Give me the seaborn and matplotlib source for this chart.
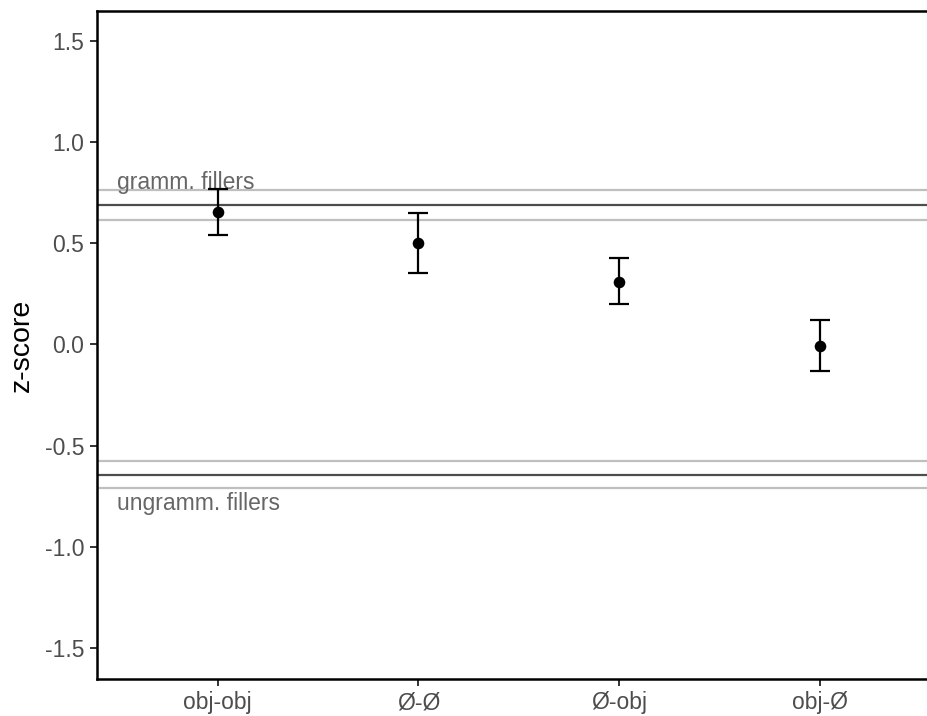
import matplotlib
matplotlib.use("Agg")
import matplotlib.pyplot as plt
import seaborn as sns
import pandas as pd

conditions = ["obj-obj", "Ø-Ø", "Ø-obj", "obj-Ø"]
means = [0.655, 0.502, 0.310, -0.005]
lower = [0.539, 0.351, 0.198, -0.133]
upper = [0.766, 0.652, 0.425, 0.120]

gramm_mean, gramm_lo, gramm_hi = 0.690, 0.617, 0.761
ungramm_mean, ungramm_lo, ungramm_hi = -0.643, -0.707, -0.578

yticks = [-1.5, -1.0, -0.5, 0.0, 0.5, 1.0, 1.5]

df = pd.DataFrame({"condition": conditions, "mean": means, "lo": lower, "hi": upper})

sns.set_style("white")
plt.rcParams["font.family"] = ["Liberation Sans", "DejaVu Sans"]

fig = plt.figure(figsize=(9.28, 7.16), dpi=100)
ax = fig.add_axes([97 / 928, (716 - 679) / 716, (928 - 97) / 928, (679 - 11) / 716])

# filler reference bands
for y, c in [(gramm_lo, "#bfbfbf"), (gramm_hi, "#bfbfbf"), (gramm_mean, "#4d4d4d"),
             (ungramm_lo, "#bfbfbf"), (ungramm_hi, "#bfbfbf"), (ungramm_mean, "#4d4d4d")]:
    ax.axhline(y, color=c, lw=1.6, zorder=1)

ax.text(-0.5, 0.80, "gramm. fillers", ha="left", va="center", fontsize=16.5, color="#666666")
ax.text(-0.5, -0.785, "ungramm. fillers", ha="left", va="center", fontsize=16.5, color="#666666")

xpos = list(range(len(conditions)))
ax.errorbar(xpos, df["mean"],
            yerr=[df["mean"] - df["lo"], df["hi"] - df["mean"]],
            fmt="none", ecolor="black", elinewidth=1.6, capsize=7, capthick=1.6, zorder=3)
sns.scatterplot(data=df, x="condition", y="mean", color="black", s=70, ax=ax, zorder=4,
                edgecolor="black", linewidth=0)

ax.set_xlim(-0.6, 3 + 108 / 201)
ax.set_ylim(-1.653, 1.648)
ax.set_yticks(yticks)
ax.set_yticklabels([f"{v:.1f}" for v in yticks])
ax.set_xticks(xpos)
ax.set_xticklabels(conditions)
ax.set_xlabel("")
ax.set_ylabel("z-score", fontsize=20.5, color="black", labelpad=7)

for s in ["left", "bottom", "top"]:
    ax.spines[s].set_visible(True)
    ax.spines[s].set_color("black")
    ax.spines[s].set_linewidth(1.8)
ax.spines["right"].set_visible(False)

ax.tick_params(axis="both", which="major", length=5, width=1.4, color="#333333",
               labelsize=16.5, labelcolor="#4d4d4d", direction="out", pad=4,
               left=True, bottom=True)

fig.savefig("out.png", dpi=100)
